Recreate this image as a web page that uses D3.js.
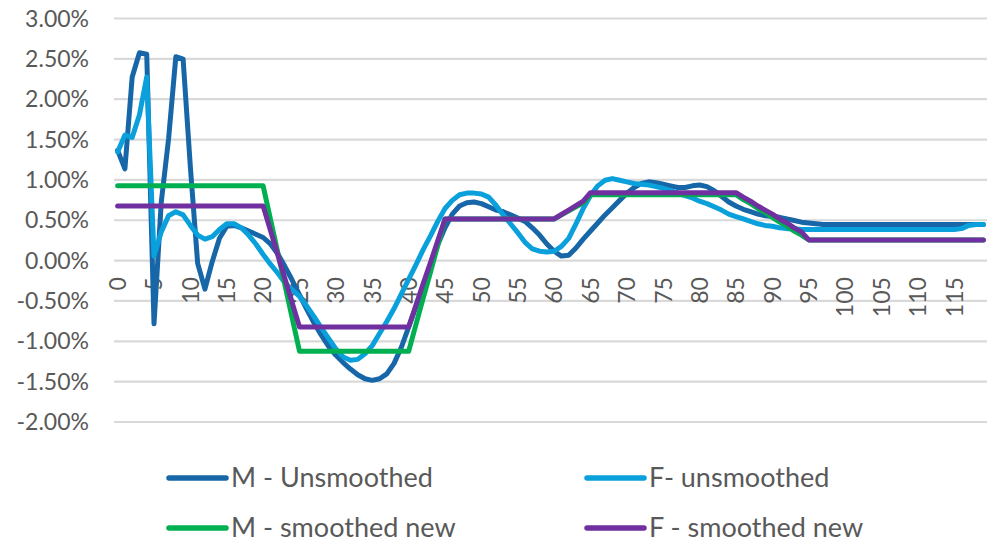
<!DOCTYPE html>
<html>
<head>
<meta charset="utf-8">
<script src="https://cdn.jsdelivr.net/npm/d3@7"></script>
<style>
  html, body { margin: 0; padding: 0; background: #fff; }
  svg { display: block; }
  text { font-family: Lato, "Open Sans", sans-serif; fill: #595959; }
</style>
</head>
<body>
<svg id="chart" width="990" height="542"></svg>
<script>
// ---- Data (values in %) ----
const categories = d3.range(0, 120);
const xTickLabels = [0,5,10,15,20,25,30,35,40,45,50,55,60,65,70,75,80,85,90,95,100,105,110,115];
const yTicks = [3.0, 2.5, 2.0, 1.5, 1.0, 0.5, 0.0, -0.5, -1.0, -1.5, -2.0];

const mUnsmoothed = [
  1.36, 1.13, 2.27, 2.57, 2.55, -0.79, 0.72, 1.50, 2.52, 2.49,
  1.15, -0.04, -0.36, -0.02, 0.27, 0.42, 0.43, 0.40, 0.36, 0.32,
  0.28, 0.20, 0.08, -0.08, -0.25, -0.43, -0.61, -0.78, -0.93, -1.07,
  -1.18, -1.27, -1.35, -1.42, -1.47, -1.49, -1.47, -1.41, -1.28, -1.08,
  -0.83, -0.58, -0.33, -0.07, 0.19, 0.40, 0.57, 0.67, 0.71, 0.72,
  0.70, 0.66, 0.62, 0.60, 0.56, 0.52, 0.48, 0.40, 0.31, 0.20,
  0.11, 0.05, 0.06, 0.15, 0.26, 0.36, 0.46, 0.56, 0.65, 0.74,
  0.83, 0.90, 0.95, 0.97, 0.96, 0.94, 0.92, 0.90, 0.90, 0.92,
  0.93, 0.91, 0.86, 0.79, 0.72, 0.67, 0.63, 0.60, 0.57, 0.55,
  0.54, 0.53, 0.51, 0.49, 0.47, 0.46, 0.45, 0.44, 0.44, 0.44,
  0.44, 0.44, 0.44, 0.44, 0.44, 0.44, 0.44, 0.44, 0.44, 0.44,
  0.44, 0.44, 0.44, 0.44, 0.44, 0.44, 0.44, 0.44, 0.44, 0.44
];
const fUnsmoothed = [
  1.34, 1.55, 1.52, 1.80, 2.27, 0.05, 0.35, 0.55, 0.60, 0.56,
  0.43, 0.31, 0.26, 0.29, 0.38, 0.45, 0.45, 0.40, 0.31, 0.20,
  0.07, -0.05, -0.16, -0.28, -0.37, -0.45, -0.57, -0.70, -0.84, -0.97,
  -1.10, -1.20, -1.24, -1.23, -1.16, -1.06, -0.91, -0.76, -0.60, -0.42,
  -0.24, -0.06, 0.13, 0.30, 0.48, 0.64, 0.74, 0.81, 0.83, 0.83,
  0.82, 0.78, 0.68, 0.56, 0.45, 0.34, 0.22, 0.14, 0.11, 0.10,
  0.11, 0.17, 0.27, 0.45, 0.64, 0.80, 0.92, 0.99, 1.01, 0.99,
  0.97, 0.95, 0.94, 0.93, 0.91, 0.89, 0.86, 0.83, 0.80, 0.77,
  0.73, 0.70, 0.66, 0.62, 0.57, 0.54, 0.51, 0.48, 0.45, 0.43,
  0.42, 0.40, 0.39, 0.39, 0.38, 0.38, 0.38, 0.38, 0.38, 0.38,
  0.38, 0.38, 0.38, 0.38, 0.38, 0.38, 0.38, 0.38, 0.38, 0.38,
  0.38, 0.38, 0.38, 0.38, 0.38, 0.38, 0.39, 0.43, 0.44, 0.44
];
const mSmoothedNew = [
  0.92, 0.92, 0.92, 0.92, 0.92, 0.92, 0.92, 0.92, 0.92, 0.92,
  0.92, 0.92, 0.92, 0.92, 0.92, 0.92, 0.92, 0.92, 0.92, 0.92,
  0.92, 0.51, 0.10, -0.31, -0.72, -1.13, -1.13, -1.13, -1.13, -1.13,
  -1.13, -1.13, -1.13, -1.13, -1.13, -1.13, -1.13, -1.13, -1.13, -1.13,
  -1.13, -0.80, -0.47, -0.15, 0.18, 0.51, 0.51, 0.51, 0.51, 0.51,
  0.51, 0.51, 0.51, 0.51, 0.51, 0.51, 0.51, 0.51, 0.51, 0.51,
  0.51, 0.56, 0.61, 0.66, 0.71, 0.81, 0.81, 0.81, 0.81, 0.81,
  0.81, 0.81, 0.81, 0.81, 0.81, 0.81, 0.81, 0.81, 0.81, 0.81,
  0.81, 0.81, 0.81, 0.81, 0.81, 0.81, 0.75, 0.70, 0.64, 0.59,
  0.53, 0.47, 0.42, 0.36, 0.31, 0.25, 0.25, 0.25, 0.25, 0.25,
  0.25, 0.25, 0.25, 0.25, 0.25, 0.25, 0.25, 0.25, 0.25, 0.25,
  0.25, 0.25, 0.25, 0.25, 0.25, 0.25, 0.25, 0.25, 0.25, 0.25
];
const fSmoothedNew = [
  0.67, 0.67, 0.67, 0.67, 0.67, 0.67, 0.67, 0.67, 0.67, 0.67,
  0.67, 0.67, 0.67, 0.67, 0.67, 0.67, 0.67, 0.67, 0.67, 0.67,
  0.67, 0.37, 0.07, -0.23, -0.53, -0.83, -0.83, -0.83, -0.83, -0.83,
  -0.83, -0.83, -0.83, -0.83, -0.83, -0.83, -0.83, -0.83, -0.83, -0.83,
  -0.83, -0.56, -0.29, -0.03, 0.24, 0.51, 0.51, 0.51, 0.51, 0.51,
  0.51, 0.51, 0.51, 0.51, 0.51, 0.51, 0.51, 0.51, 0.51, 0.51,
  0.51, 0.565, 0.62, 0.675, 0.73, 0.835, 0.835, 0.835, 0.835, 0.835,
  0.835, 0.835, 0.835, 0.835, 0.835, 0.835, 0.835, 0.835, 0.835, 0.835,
  0.835, 0.835, 0.835, 0.835, 0.835, 0.835, 0.78, 0.73, 0.67, 0.62,
  0.57, 0.51, 0.46, 0.40, 0.35, 0.25, 0.25, 0.25, 0.25, 0.25,
  0.25, 0.25, 0.25, 0.25, 0.25, 0.25, 0.25, 0.25, 0.25, 0.25,
  0.25, 0.25, 0.25, 0.25, 0.25, 0.25, 0.25, 0.25, 0.25, 0.25
];
const seriesNames = ["M - Unsmoothed", "F- unsmoothed", "M - smoothed new", "F - smoothed new"];
const seriesColors = ["#1767A8", "#0AA0DC", "#00B050", "#7030A0"];

// ---- Layout ----
const svg = d3.select("#chart");
const plot = { left: 114, right: 987, top: 18, bottom: 421.5 };

const x = d3.scaleBand().domain(categories).range([plot.left, plot.right]).padding(0);
const xc = d => x(d) + x.bandwidth() / 2;
const y = d3.scaleLinear().domain([-2, 3]).range([plot.bottom, plot.top]);

// gridlines + y labels
const pct = v => (v < 0 ? "-" : "") + Math.abs(v).toFixed(2) + "%";
const yAxis = d3.axisLeft(y).tickValues(yTicks).tickSize(-(plot.right - plot.left)).tickFormat(pct);
const gy = svg.append("g").attr("transform", `translate(${plot.left},0)`).call(yAxis);
gy.select(".domain").remove();
gy.selectAll(".tick line").attr("stroke", "#d9d9d9").attr("stroke-width", 2.2);
gy.selectAll(".tick text").attr("x", 89 - plot.left).attr("dy", "0.35em")
  .style("font-size", "23px").attr("fill", "#595959");

// x axis labels (at the zero line)
const xAxis = d3.axisBottom(x).tickValues(xTickLabels).tickSize(0).tickPadding(0);
const gx = svg.append("g").attr("transform", `translate(0,${y(0)})`).call(xAxis);
gx.select(".domain").remove();
gx.selectAll(".tick text")
  .attr("transform", "translate(0,17) rotate(-90)")
  .attr("text-anchor", "end").attr("x", 0).attr("y", 0).attr("dy", "0.36em")
  .style("font-size", "23px").attr("fill", "#595959");

// lines
const allSeries = [mUnsmoothed, fUnsmoothed, mSmoothedNew, fSmoothedNew];
const line = d3.line().x((d, i) => xc(categories[i])).y(d => y(d));
svg.append("g").selectAll("path").data(allSeries).join("path")
  .attr("d", line).attr("fill", "none")
  .attr("stroke", (d, i) => seriesColors[i]).attr("stroke-width", 5)
  .attr("stroke-linejoin", "round").attr("stroke-linecap", "round");

// legend
const legendPos = [[167, 478], [585, 478], [167, 528], [585, 528]];
const lg = svg.append("g").selectAll("g").data(seriesNames).join("g")
  .attr("transform", (d, i) => `translate(${legendPos[i][0]},${legendPos[i][1]})`);
lg.append("line").attr("x1", 2).attr("x2", 59).attr("y1", 0).attr("y2", 0)
  .attr("stroke", (d, i) => seriesColors[i]).attr("stroke-width", 5.5).attr("stroke-linecap", "round");
lg.append("text").attr("x", 64).attr("dy", "0.35em").style("font-size", "27px")
  .attr("fill", "#595959").text(d => d);
</script>
</body>
</html>
